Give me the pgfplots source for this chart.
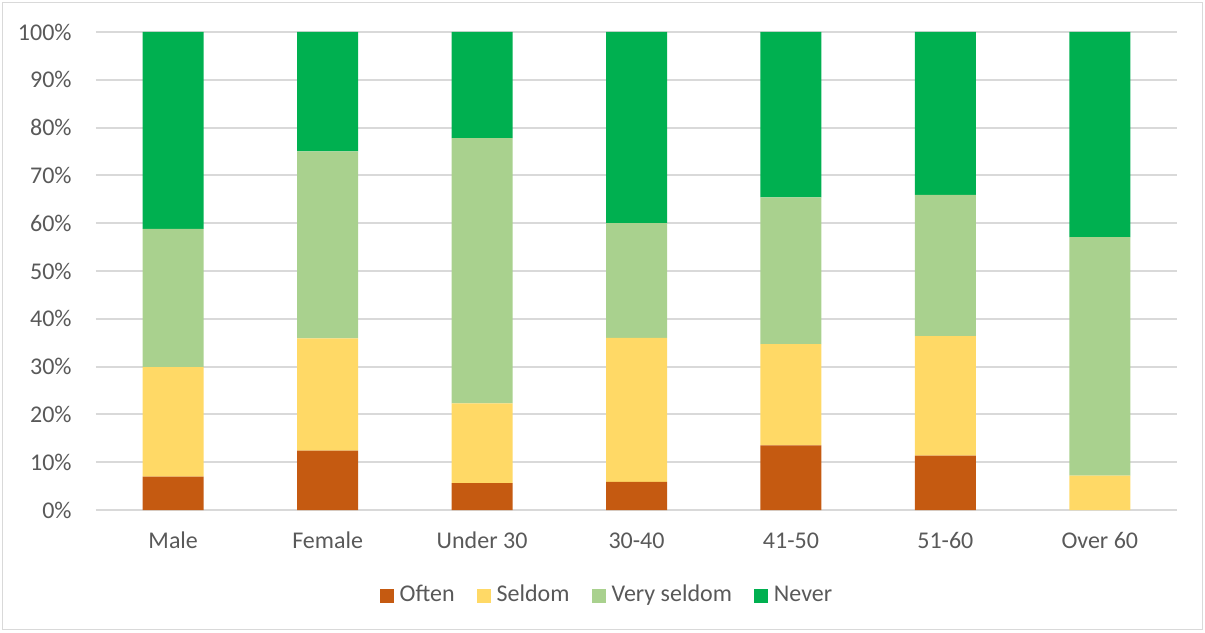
\documentclass[border=0pt]{standalone}
\usepackage{fontspec}
\setmainfont{Carlito}
\usepackage{pgfplots}
\usepackage{pgfplotstable}
\pgfplotsset{compat=1.18}

\definecolor{often}{HTML}{C55A11}
\definecolor{seldom}{HTML}{FFD966}
\definecolor{vseldom}{HTML}{A9D18E}
\definecolor{never}{HTML}{00B050}
\definecolor{gridgray}{HTML}{D9D9D9}
\definecolor{textgray}{HTML}{595959}

% Share of respondents (percent) in each answer group
\pgfplotstableread{
idx often seldom vseldom never
0   7.0   22.9   28.9    41.2
1   12.4  23.5   39.1    25.0
2   5.6   16.7   55.5    22.2
3   5.9   30.1   24.0    40.0
4   13.5  21.2   30.7    34.6
5   11.4  25.0   29.5    34.1
6   0.0   7.2    49.9    42.9
}\shares

\begin{document}
\begin{tikzpicture}
\useasboundingbox (-48pt,-61pt) rectangle (554.5pt,255pt);
\draw[gridgray, line width=0.8pt] (-46.8pt,-59.8pt) rectangle (553.3pt,253.8pt);
\begin{axis}[
  at={(0pt,0pt)}, anchor=south west,
  scale only axis, width=540.5pt, height=239pt,
  xmin=-0.5, xmax=6.5, ymin=0, ymax=100,
  ybar stacked, bar width=30.5pt,
  xtick={0,...,6},
  xticklabels={Male,Female,Under 30,30-40,41-50,51-60,Over 60},
  ytick={0,10,...,100},
  yticklabel={\pgfmathprintnumber{\tick}\%},
  /pgf/number format/assume math mode=true,
  ymajorgrids, grid style={gridgray, line width=1pt},
  axis line style={draw=none},
  major tick length=0pt,
  tick label style={font=\fontsize{12}{14.4}\selectfont, text=textgray},
  xticklabel style={anchor=base, yshift=-19.2pt},
  yticklabel style={anchor=east, inner sep=0pt, xshift=-12pt},
  legend columns=4,
  legend image code/.code={\path[#1, draw=none] (0pt,-0.3pt) rectangle (7pt,6.7pt);},
  legend style={at={(axis description cs:0.4736,-0.178)}, anchor=center,
    draw=none, fill=none, font=\fontsize{12}{14.4}\selectfont, text=textgray,
    /tikz/every odd column/.append style={column sep=1pt},
    /tikz/every even column/.append style={column sep=9pt},
    cells={anchor=base west}},
]
\addplot[fill=often, draw=none] table[x=idx, y=often] {\shares};
\addlegendentry{Often}
\addplot[fill=seldom, draw=none] table[x=idx, y=seldom] {\shares};
\addlegendentry{Seldom}
\addplot[fill=vseldom, draw=none] table[x=idx, y=vseldom] {\shares};
\addlegendentry{Very seldom}
\addplot[fill=never, draw=none] table[x=idx, y=never] {\shares};
\addlegendentry{Never}
\end{axis}
\end{tikzpicture}
\end{document}
